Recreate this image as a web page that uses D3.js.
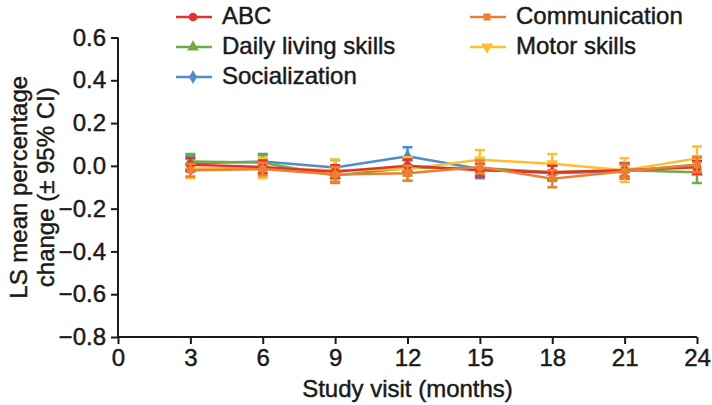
<!DOCTYPE html>
<html><head><meta charset="utf-8">
<script src="https://cdn.jsdelivr.net/npm/d3@7"></script>
<style>body{margin:0;background:#fff}svg{display:block}text{font-family:"Liberation Sans",Arial,Helvetica,sans-serif;fill:#1a1a1a;stroke:#1a1a1a;stroke-width:0.45px}</style>
</head><body><svg id="c" width="712" height="405"></svg>
<script>
const months = [3, 6, 9, 12, 15, 18, 21, 24];
const xTicks = [0, 3, 6, 9, 12, 15, 18, 21, 24];
const yTicks = [0.6, 0.4, 0.2, 0.0, -0.2, -0.4, -0.6, -0.8];
const seriesNames = ["ABC", "Communication", "Daily living skills", "Motor skills", "Socialization"];
const abc    = [0.005, -0.005, -0.027, 0.0, -0.02, -0.03, -0.02, -0.007];
const abcErr = [0.03, 0.03, 0.03, 0.03, 0.03, 0.03, 0.03, 0.03];
const comm    = [-0.02, -0.015, -0.04, -0.035, -0.005, -0.06, -0.025, 0.005];
const commErr = [0.03, 0.03, 0.035, 0.035, 0.03, 0.04, 0.03, 0.035];
const daily    = [0.02, 0.015, -0.045, -0.01, -0.01, -0.03, -0.02, -0.03];
const dailyErr = [0.035, 0.035, 0.035, 0.035, 0.035, 0.035, 0.035, 0.05];
const motor    = [-0.012, -0.01, -0.02, -0.015, 0.028, 0.01, -0.02, 0.035];
const motorErr = [0.045, 0.047, 0.05, 0.055, 0.046, 0.045, 0.055, 0.055];
const social    = [0.012, 0.02, -0.008, 0.045, -0.015, -0.035, -0.025, 0.005];
const socialErr = [0.035, 0.035, 0.035, 0.042, 0.043, 0.035, 0.035, 0.035];

const colors = {"ABC":"#e5312d","Communication":"#ee7e32","Daily living skills":"#6fac46","Motor skills":"#fdbf2d","Socialization":"#4c8dcb"};
const shapes = {"ABC":d3.symbolCircle,"Communication":d3.symbolSquare,"Daily living skills":d3.symbolTriangle,"Motor skills":d3.symbolTriangle,"Socialization":d3.symbolDiamond};
const series = [
  {name:"Socialization", v:social, e:socialErr},
  {name:"Daily living skills", v:daily, e:dailyErr},
  {name:"Motor skills", v:motor, e:motorErr},
  {name:"ABC", v:abc, e:abcErr},
  {name:"Communication", v:comm, e:commErr}
];

const svg = d3.select("#c");
const x = d3.scaleLinear().domain([0,24]).range([118,697]);
const y = d3.scaleLinear().domain([-0.8,0.6]).range([337,37.5]);

// axes
const xa = svg.append("g").attr("transform",`translate(0,${y(-0.8)})`)
  .call(d3.axisBottom(x).tickValues(xTicks).tickSize(7).tickPadding(5).tickFormat(d3.format("d")));
const ya = svg.append("g").attr("transform",`translate(${x(0)},0)`)
  .call(d3.axisLeft(y).tickValues(yTicks).tickSize(7).tickPadding(5)
    .tickFormat(d => d < 0 ? "\u2212" + d3.format(".1f")(-d) : d3.format(".1f")(d)));
[xa, ya].forEach(g => {
  g.select(".domain").attr("stroke","#1a1a1a").attr("stroke-width",2);
  g.selectAll(".tick line").attr("stroke","#1a1a1a").attr("stroke-width",2);
  g.selectAll(".tick text").attr("font-size",24).attr("fill","#1a1a1a")
   .style("font-family",'"Liberation Sans",Arial,sans-serif');
});
xa.select(".domain").attr("d",`M${x(0)},0H${x(24)}`);
ya.select(".domain").attr("d",`M0,${y(0.6)}V${y(-0.8)}`);

svg.append("text").attr("x",(x(0)+x(24))/2).attr("y",397).attr("text-anchor","middle")
  .attr("font-size",24).text("Study visit (months)");
const yl = svg.append("text").attr("transform",`translate(0,${(y(0.6)+y(-0.8))/2}) rotate(-90)`)
  .attr("text-anchor","middle").attr("font-size",24);
yl.append("tspan").attr("x",0).attr("y",27).text("LS mean percentage");
yl.append("tspan").attr("x",0).attr("y",54).text("change (\u00b1 95% CI)");

const line = d3.line().x((d,i)=>x(months[i])).y(d=>y(d));
const sym = (n) => d3.symbol().type(shapes[n]).size(n==="Socialization"?55:(n==="Communication"?50:60))();

series.forEach(s => {
  const g = svg.append("g");
  const c = colors[s.name];
  g.append("path").attr("d",line(s.v)).attr("fill","none").attr("stroke",c).attr("stroke-width",2.5);
  s.v.forEach((v,i) => {
    const cx = x(months[i]);
    g.append("path").attr("d",`M${cx},${y(v+s.e[i])}V${y(v-s.e[i])}M${cx-5},${y(v+s.e[i])}H${cx+5}M${cx-5},${y(v-s.e[i])}H${cx+5}`)
      .attr("stroke",c).attr("stroke-width",2.5).attr("fill","none");
    g.append("path").attr("d",sym(s.name))
      .attr("transform",`translate(${cx},${y(v)})${s.name==="Motor skills"?" rotate(180)":""}`)
      .attr("fill",c);
  });
});

// legend
const legend = [
  {name:"ABC", lx:176, ly:17},
  {name:"Daily living skills", lx:176, ly:47},
  {name:"Socialization", lx:176, ly:77},
  {name:"Communication", lx:470, ly:17},
  {name:"Motor skills", lx:470, ly:47}
];
legend.forEach(l => {
  const c = colors[l.name];
  svg.append("line").attr("x1",l.lx).attr("x2",l.lx+36).attr("y1",l.ly).attr("y2",l.ly)
    .attr("stroke",c).attr("stroke-width",2.5);
  svg.append("path").attr("d",sym(l.name))
    .attr("transform",`translate(${l.lx+17},${l.ly})${l.name==="Motor skills"?" rotate(180)":""}`).attr("fill",c);
  svg.append("text").attr("x",l.lx+46).attr("y",l.ly-1.5).attr("dy","0.36em")
    .attr("font-size",24).text(l.name);
});
</script></body></html>
